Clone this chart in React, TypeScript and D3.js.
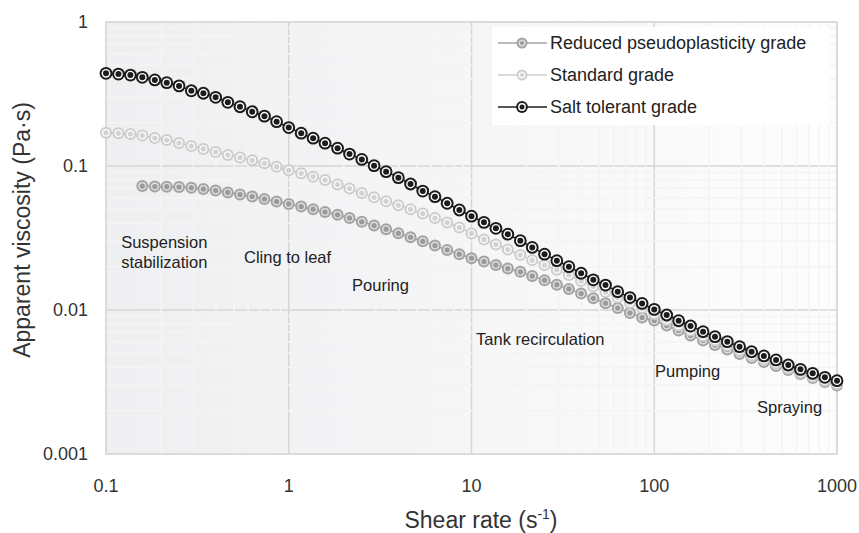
import React, { useEffect, useRef } from 'react'
import * as d3 from 'd3'

// shear rate (1/s), 15 points per decade
const shearRate = [
  0.1, 0.117, 0.136, 0.158, 0.185, 0.215, 0.251, 0.293, 0.341, 0.398, 0.464, 0.541, 0.631, 0.736, 0.858,
  1, 1.17, 1.36, 1.58, 1.85, 2.15, 2.51, 2.93, 3.41, 3.98, 4.64, 5.41, 6.31, 7.36, 8.58,
  10, 11.7, 13.6, 15.8, 18.5, 21.5, 25.1, 29.3, 34.1, 39.8, 46.4, 54.1, 63.1, 73.6, 85.8,
  100, 117, 136, 158, 185, 215, 251, 293, 341, 398, 464, 541, 631, 736, 858, 1000
]

// apparent viscosity (Pa.s)
const reducedGrade = [
  null, null, null, 0.0726, 0.0720, 0.0718, 0.0715, 0.0706, 0.0692, 0.0676, 0.0655, 0.0634, 0.0614, 0.0590, 0.0567,
  0.0545, 0.0523, 0.0501, 0.0479, 0.0458, 0.0435, 0.0410, 0.0386, 0.0364, 0.0341, 0.0320, 0.0300, 0.0280, 0.0261, 0.0244,
  0.0229, 0.0217, 0.0205, 0.0194, 0.0184, 0.0172, 0.0161, 0.0150, 0.0140, 0.0130, 0.01206, 0.01115, 0.01032, 0.00953, 0.00887,
  0.00845, 0.00781, 0.00721, 0.00665, 0.00614, 0.00571, 0.00532, 0.00495, 0.00464, 0.00435, 0.00408, 0.00383, 0.00359, 0.00337, 0.00316, 0.00299
]
const standardGrade = [
  0.1702, 0.1686, 0.1668, 0.1628, 0.1565, 0.1516, 0.1445, 0.1377, 0.1313, 0.1251, 0.1192, 0.1146, 0.1095, 0.1044, 0.0989,
  0.0933, 0.0890, 0.0843, 0.0799, 0.0744, 0.0698, 0.0649, 0.0606, 0.0569, 0.0533, 0.0500, 0.0468, 0.0435, 0.0405, 0.0374,
  0.0340, 0.0309, 0.0285, 0.0263, 0.0241, 0.0222, 0.0205, 0.0190, 0.0175, 0.0159, 0.01456, 0.01334, 0.01221, 0.01118, 0.01032,
  0.00938, 0.00852, 0.00781, 0.00721, 0.00660, 0.00614, 0.00567, 0.00523, 0.00483, 0.00453, 0.00425, 0.00392, 0.00366, 0.00344, 0.00322, 0.00306
]
const saltTolerant = [
  0.440, 0.435, 0.428, 0.413, 0.396, 0.379, 0.360, 0.333, 0.320, 0.300, 0.277, 0.258, 0.238, 0.222, 0.203,
  0.185, 0.169, 0.156, 0.144, 0.133, 0.121, 0.111, 0.1005, 0.0913, 0.0830, 0.0750, 0.0670, 0.0612, 0.0551, 0.0495,
  0.0448, 0.0406, 0.0369, 0.0336, 0.0303, 0.0272, 0.0244, 0.0220, 0.0200, 0.0180, 0.0162, 0.0149, 0.0134, 0.0122, 0.0111,
  0.0101, 0.00923, 0.00843, 0.00774, 0.00707, 0.00653, 0.00603, 0.00556, 0.00513, 0.00480, 0.00450, 0.00415, 0.00387, 0.00363, 0.00341, 0.00323
]

const seriesNames = ['Reduced pseudoplasticity grade', 'Standard grade', 'Salt tolerant grade']

const xTicks = [0.1, 1, 10, 100, 1000]
const xTickLabels = ['0.1', '1', '10', '100', '1000']
const yTicks = [0.001, 0.01, 0.1, 1]
const yTickLabels = ['0.001', '0.01', '0.1', '1']

// zone annotations, anchored in data units (shear rate, viscosity at baseline)
const zones = [
  { lines: ['Suspension', 'stabilization'], x: 0.121, y: 0.0271 },
  { lines: ['Cling to leaf'], x: 0.569, y: 0.0213 },
  { lines: ['Pouring'], x: 2.22, y: 0.01355 },
  { lines: ['Tank recirculation'], x: 10.6, y: 0.00571 },
  { lines: ['Pumping'], x: 101, y: 0.00344 },
  { lines: ['Spraying'], x: 365, y: 0.00194 },
]

const FONT = '"Liberation Sans", Arial, sans-serif'

// marker look: outer ring colour, middle ring, centre dot
const styles = [
  { line: '#a3a3a3', outer: '#a3a3a3', ring: '#dcdcdc', dot: '#9a9a9a', r: 6 },
  { line: '#cdcdcd', outer: '#cdcdcd', ring: '#fafafa', dot: '#d2d2d2', r: 6 },
  { line: '#1c1c1c', outer: '#1c1c1c', ring: '#ffffff', dot: '#1c1c1c', r: 6.4 },
]

export default function App() {
  const ref = useRef<SVGSVGElement>(null)

  useEffect(() => {
    const svg = d3.select(ref.current)
    svg.selectAll('*').remove()

    const left = 106, right = 837, top = 22, bottom = 454

    const x = d3.scaleLog().domain([0.1, 1000]).range([left, right])
    const y = d3.scaleLog().domain([0.001, 1]).range([bottom, top])

    // plot background gradient
    const defs = svg.append('defs')
    const grad = defs.append('linearGradient').attr('id', 'bg')
      .attr('x1', '0%').attr('x2', '100%').attr('y1', '0%').attr('y2', '0%')
    grad.append('stop').attr('offset', '0%').attr('stop-color', '#eeeff1')
    grad.append('stop').attr('offset', '100%').attr('stop-color', '#fdfdfd')

    svg.append('rect')
      .attr('x', left).attr('y', top)
      .attr('width', right - left).attr('height', bottom - top)
      .attr('fill', 'url(#bg)')

    // major grid
    const g = svg.append('g')
    xTicks.forEach(t => {
      g.append('line').attr('x1', x(t)).attr('x2', x(t)).attr('y1', top).attr('y2', bottom)
        .attr('stroke', '#d6d6d6').attr('stroke-width', 1.5)
    })
    yTicks.forEach(t => {
      g.append('line').attr('x1', left).attr('x2', right).attr('y1', y(t)).attr('y2', y(t))
        .attr('stroke', '#d6d6d6').attr('stroke-width', 1.5)
    })

    // minor grid
    const minorX = x.ticks().filter(t => !xTicks.includes(t))
    const minorY = y.ticks().filter(t => !yTicks.some(v => Math.abs(v - t) < 1e-9))
    minorX.forEach(t => {
      g.append('line').attr('x1', x(t)).attr('x2', x(t)).attr('y1', top).attr('y2', bottom)
        .attr('stroke', '#f4f4f5').attr('stroke-width', 1.5)
    })
    minorY.forEach(t => {
      g.append('line').attr('x1', left).attr('x2', right).attr('y1', y(t)).attr('y2', y(t))
        .attr('stroke', '#f4f4f5').attr('stroke-width', 1.5)
    })

    // border
    svg.append('rect')
      .attr('x', left).attr('y', top)
      .attr('width', right - left).attr('height', bottom - top)
      .attr('fill', 'none').attr('stroke', '#d9d9d9').attr('stroke-width', 1.5)

    // tick labels
    xTicks.forEach((t, i) => {
      svg.append('text').attr('x', x(t)).attr('y', 492)
        .attr('text-anchor', 'middle').attr('font-family', FONT).attr('font-size', 18)
        .attr('fill', '#333').text(xTickLabels[i])
    })
    yTicks.forEach((t, i) => {
      svg.append('text').attr('x', 88).attr('y', y(t)).attr('dy', '0.35em')
        .attr('text-anchor', 'end').attr('font-family', FONT).attr('font-size', 18)
        .attr('fill', '#333').text(yTickLabels[i])
    })

    // axis titles
    const xt = svg.append('text').attr('x', 481).attr('y', 528)
      .attr('text-anchor', 'middle').attr('font-family', FONT).attr('font-size', 23)
      .attr('fill', '#333')
    xt.append('tspan').text('Shear rate (s')
    xt.append('tspan').attr('font-size', 14).attr('dy', -9).text('-1')
    xt.append('tspan').attr('dy', 9).text(')')

    svg.append('text')
      .attr('transform', 'translate(30,230) rotate(-90)')
      .attr('text-anchor', 'middle').attr('font-family', FONT).attr('font-size', 23)
      .attr('fill', '#333').text('Apparent viscosity (Pa·s)')

    // zone labels
    zones.forEach(z => {
      const t = svg.append('text').attr('font-family', FONT).attr('font-size', 16.5).attr('fill', '#222')
      z.lines.forEach((l, i) => {
        t.append('tspan').attr('x', x(z.x)).attr('y', y(z.y) + i * 20).text(l)
      })
    })

    // series
    const allSeries = [reducedGrade, standardGrade, saltTolerant]
    const drawMarker = (sel: any, cx: number, cy: number, s: any) => {
      sel.append('circle').attr('cx', cx).attr('cy', cy).attr('r', s.r).attr('fill', s.outer)
      sel.append('circle').attr('cx', cx).attr('cy', cy).attr('r', s.r - 2).attr('fill', s.ring)
      sel.append('circle').attr('cx', cx).attr('cy', cy).attr('r', s.r - 3.4).attr('fill', s.dot)
    }

    allSeries.forEach((vals, k) => {
      const s = styles[k]
      const pts = shearRate.map((r, i) => [r, vals[i]] as [number, number | null])
        .filter(p => p[1] != null) as [number, number][]
      const line = d3.line<[number, number]>().x(d => x(d[0])).y(d => y(d[1]))
      svg.append('path').attr('d', line(pts)).attr('fill', 'none')
        .attr('stroke', s.line).attr('stroke-width', 1.5)
      const mg = svg.append('g')
      pts.forEach(p => drawMarker(mg, x(p[0]), y(p[1]), s))
    })

    // legend
    const lg = svg.append('g')
    lg.append('rect').attr('x', 492).attr('y', 27).attr('width', 337).attr('height', 98).attr('fill', '#ffffff')
    seriesNames.forEach((name, i) => {
      const s = styles[i]
      const ly = 43 + i * 32
      lg.append('line').attr('x1', 498).attr('x2', 547).attr('y1', ly).attr('y2', ly)
        .attr('stroke', s.line).attr('stroke-width', 1.5)
      drawMarker(lg, 522, ly, { ...s, r: s.r - 0.5 })
      lg.append('text').attr('x', 550).attr('y', ly).attr('dy', '0.35em')
        .attr('font-family', FONT).attr('font-size', 18).attr('fill', '#222').text(name)
    })
  }, [])

  return (
    <svg ref={ref} width={859} height={533}
      style={{ position: 'absolute', left: 0, top: 0, background: '#fff' }} />
  )
}
